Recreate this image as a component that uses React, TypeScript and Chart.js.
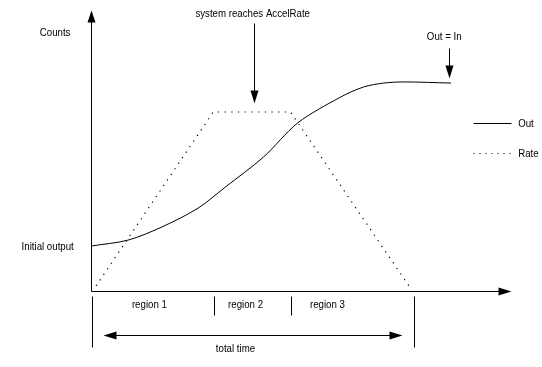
import { useEffect, useRef } from "react";
import { Chart, registerables } from "chart.js";
Chart.register(...registerables);

// Data (arbitrary time / count units)
const outX = [0, 8.8, 16.9, 25.5, 32.0, 41.1, 49.2, 59.4, 64.9, 69.7, 74.5, 85.7];
const outY = [16.0, 18.1, 22.8, 29.5, 37.0, 47.7, 59.8, 69.0, 72.6, 74.0, 74.4, 74.0];
const rateX = [1.2, 29.1, 47.5, 75.7];
const rateY = [1.8, 63.7, 63.7, 1.8];
const regionBounds = [0.2, 29.4, 47.7, 76.8];
const regionLabels = ["region 1", "region 2", "region 3"];
const regionLabelX = [13.9, 36.8, 56.3];
const seriesNames = ["Out", "Rate"];
const accelRateX = 38.9;

const FONT = '11px "Liberation Sans", Arial, sans-serif';
const SQUEEZE = 0.88;

const text = (ctx: any, s: string, x: number, y: number) => {
  const w = ctx.measureText(s).width;
  ctx.fillText(s, x, y, w * SQUEEZE);
};

const diagramPlugin = {
  id: "diagram",
  beforeDatasetsDraw(chart: any) {
    const ctx = chart.ctx;
    const xs = chart.scales.x;
    const ys = chart.scales.y;
    const X = (v: number) => Math.round(xs.getPixelForValue(v)) + 0.5;
    const Y = (v: number) => Math.round(ys.getPixelForValue(v)) + 0.5;
    ctx.save();
    ctx.strokeStyle = "#000";
    ctx.fillStyle = "#000";
    ctx.lineWidth = 1;
    const x0 = X(0), y0 = Y(0), yTop = Y(100), xRight = X(100);
    ctx.beginPath();
    ctx.moveTo(x0, y0);
    ctx.lineTo(x0, yTop + 4);
    ctx.moveTo(x0, y0);
    ctx.lineTo(xRight - 4, y0);
    ctx.stroke();
    ctx.beginPath();
    ctx.moveTo(x0, yTop);
    ctx.lineTo(x0 - 4, yTop + 12);
    ctx.lineTo(x0 + 4, yTop + 12);
    ctx.closePath();
    ctx.fill();
    ctx.beginPath();
    ctx.moveTo(xRight, y0);
    ctx.lineTo(xRight - 13, y0 - 4);
    ctx.lineTo(xRight - 13, y0 + 4);
    ctx.closePath();
    ctx.fill();
    ctx.restore();
  },
  afterDatasetsDraw(chart: any) {
    const ctx = chart.ctx;
    const xs = chart.scales.x;
    const ys = chart.scales.y;
    const X = (v: number) => Math.round(xs.getPixelForValue(v)) + 0.5;
    const Y = (v: number) => Math.round(ys.getPixelForValue(v)) + 0.5;
    ctx.save();
    ctx.strokeStyle = "#000";
    ctx.fillStyle = "#000";
    ctx.lineWidth = 1;
    regionBounds.forEach((b, i) => {
      const long = i === 0 || i === regionBounds.length - 1;
      ctx.beginPath();
      ctx.moveTo(X(b), Y(-1.8));
      ctx.lineTo(X(b), Y(long ? -19.9 : -8.5));
      ctx.stroke();
    });
    ctx.font = FONT;
    ctx.textBaseline = "middle";
    ctx.textAlign = "center";
    regionLabels.forEach((l, i) => {
      text(ctx, l, xs.getPixelForValue(regionLabelX[i]), Y(-4.6));
    });
    const ty = Y(-15.7);
    const tl = X(2.8), tr = X(74.0);
    ctx.beginPath();
    ctx.moveTo(tl + 6, ty);
    ctx.lineTo(tr - 6, ty);
    ctx.stroke();
    ctx.beginPath();
    ctx.moveTo(tl, ty);
    ctx.lineTo(tl + 13, ty - 4);
    ctx.lineTo(tl + 13, ty + 4);
    ctx.closePath();
    ctx.fill();
    ctx.beginPath();
    ctx.moveTo(tr, ty);
    ctx.lineTo(tr - 13, ty - 4);
    ctx.lineTo(tr - 13, ty + 4);
    ctx.closePath();
    ctx.fill();
    text(ctx, "total time", xs.getPixelForValue(34.4), Y(-20.3));
    ctx.textAlign = "left";
    text(ctx, "Counts", xs.getPixelForValue(-12.2), Y(92.2));
    ctx.textAlign = "right";
    text(ctx, "Initial output", xs.getPixelForValue(-4.1), Y(outY[0]));
    ctx.textAlign = "center";
    text(ctx, "system reaches AccelRate", xs.getPixelForValue(38.5), Y(98.9));
    text(ctx, "Out = In", xs.getPixelForValue(84.1), Y(90.7));
    const downArrow = (xv: number, yFrom: number, yTo: number) => {
      const ax = X(xv), a1 = Y(yFrom), a2 = Y(yTo);
      ctx.beginPath();
      ctx.moveTo(ax, a1);
      ctx.lineTo(ax, a2 - 6);
      ctx.stroke();
      ctx.beginPath();
      ctx.moveTo(ax, a2);
      ctx.lineTo(ax - 4, a2 - 13);
      ctx.lineTo(ax + 4, a2 - 13);
      ctx.closePath();
      ctx.fill();
    };
    downArrow(accelRateX, 95.4, 66.9);
    downArrow(85.2, 86.5, 75.8);
    const lx1 = X(90.9), lx2 = X(100);
    const ly1 = Y(59.8), ly2 = Y(49.1);
    ctx.beginPath();
    ctx.moveTo(lx1, ly1);
    ctx.lineTo(lx2, ly1);
    ctx.stroke();
    ctx.setLineDash([1, 5]);
    ctx.beginPath();
    ctx.moveTo(lx1, ly2);
    ctx.lineTo(lx2, ly2);
    ctx.stroke();
    ctx.setLineDash([]);
    ctx.textAlign = "left";
    text(ctx, seriesNames[0], xs.getPixelForValue(101.7), ly1);
    text(ctx, seriesNames[1], xs.getPixelForValue(101.7), ly2);
    ctx.restore();
  },
};

export default function App() {
  const ref = useRef<HTMLCanvasElement | null>(null);
  useEffect(() => {
    if (!ref.current) return;
    const chart = new Chart(ref.current, {
      type: "line",
      data: {
        datasets: [
          {
            label: seriesNames[0],
            data: outX.map((x, i) => ({ x, y: outY[i] })),
            borderColor: "#000",
            borderWidth: 1,
            pointRadius: 0,
            tension: 0.3,
            fill: false,
            clip: false as any,
          },
          {
            label: seriesNames[1],
            data: rateX.map((x, i) => ({ x, y: rateY[i] })),
            borderColor: "#000",
            borderWidth: 1.2,
            borderDash: [1.2, 5.5],
            pointRadius: 0,
            tension: 0,
            fill: false,
            clip: false as any,
          },
        ],
      },
      options: {
        animation: false,
        responsive: true,
        maintainAspectRatio: false,
        devicePixelRatio: 1,
        layout: { padding: { left: 91, right: 31, top: 10, bottom: 76 } },
        scales: {
          x: { type: "linear", min: 0, max: 100, display: false },
          y: { type: "linear", min: 0, max: 100, display: false },
        },
        plugins: { legend: { display: false }, tooltip: { enabled: false } },
        events: [],
      },
      plugins: [diagramPlugin],
    });
    return () => chart.destroy();
  }, []);
  return (
    <div style={{ position: "fixed", left: 0, top: 0, width: 542, height: 367, background: "#fff" }}>
      <canvas ref={ref} />
    </div>
  );
}
